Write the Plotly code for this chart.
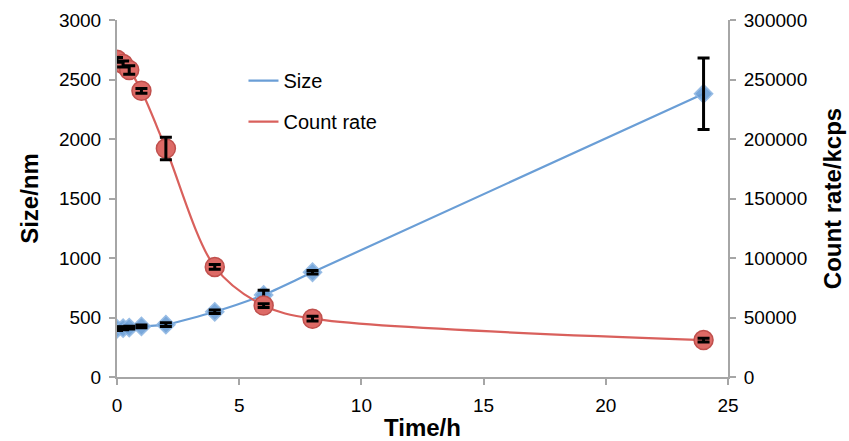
import plotly.graph_objects as go

time_h = [0, 0.25, 0.5, 1, 2, 4, 6, 8, 24]
size_nm = [405, 410, 415, 425, 440, 548, 690, 880, 2380]
size_err = [15, 12, 12, 12, 15, 15, 40, 15, 300]
count_rate = [266500, 263000, 258000, 240500, 192000, 92500, 60000, 49000, 31000]
count_err = [2000, 2500, 3500, 2000, 9500, 2000, 1500, 2000, 1500]

BLUE = "#6A9ED6"
RED = "#D9605C"
FONT = "Liberation Sans, Arial, Helvetica, sans-serif"

fig = go.Figure()

fig.add_trace(go.Scatter(x=time_h, y=size_nm, mode="lines", name="Size",
                         line=dict(color=BLUE, width=2.2, shape="spline", smoothing=0.6),
                         legendgroup="a"))
fig.add_trace(go.Scatter(x=time_h, y=size_nm, mode="markers", showlegend=False,
                         marker=dict(symbol="diamond", size=14, color=BLUE, opacity=0.9,
                                     line=dict(color="#8DB6E3", width=1.5))))
fig.add_trace(go.Scatter(x=time_h, y=count_rate, mode="lines", name="Count rate", yaxis="y2",
                         line=dict(color=RED, width=2.2, shape="spline", smoothing=0.9),
                         legendgroup="b"))
fig.add_trace(go.Scatter(x=time_h, y=count_rate, mode="markers", showlegend=False, yaxis="y2",
                         marker=dict(symbol="circle", size=19, color="#DD6A66",
                                     line=dict(color="#C0504D", width=1.5))))
# error bars on top
fig.add_trace(go.Scatter(x=time_h, y=size_nm, mode="markers", showlegend=False,
                         marker=dict(size=1, opacity=0),
                         error_y=dict(type="data", array=size_err, visible=True,
                                      color="black", thickness=3, width=6)))
fig.add_trace(go.Scatter(x=time_h, y=count_rate, mode="markers", showlegend=False, yaxis="y2",
                         marker=dict(size=1, opacity=0),
                         error_y=dict(type="data", array=count_err, visible=True,
                                      color="black", thickness=3, width=6)))

axis_common = dict(showgrid=False, zeroline=False, showline=True, linecolor="#A6A6A6",
                   linewidth=2, ticks="outside", tickcolor="#A6A6A6", ticklen=6, tickwidth=2,
                   automargin=False, ticklabelstandoff=4,
                   tickfont=dict(family=FONT, size=19, color="black"))

fig.update_layout(
    width=849, height=441,
    margin=dict(l=117, r=121, t=20, b=64),
    plot_bgcolor="white", paper_bgcolor="white",
    font=dict(family=FONT, color="black"),
    xaxis=dict(range=[0, 25], dtick=5, tick0=0,
               title=dict(text="<b>Time/h</b>", font=dict(size=24, family=FONT), standoff=8),
               **axis_common),
    yaxis=dict(range=[0, 3000], dtick=500, tick0=0,
               title=dict(text="<b>Size/nm</b>", font=dict(size=24, family=FONT), standoff=14),
               **axis_common),
    yaxis2=dict(range=[0, 300000], dtick=50000, tick0=0, overlaying="y", side="right",
                tickformat="d",
                title=dict(text="<b>Count rate/kcps</b>", font=dict(size=24, family=FONT), standoff=18),
                **axis_common),
    legend=dict(x=0.207, y=0.885, xanchor="left", yanchor="top", bgcolor="rgba(0,0,0,0)",
                font=dict(size=20, family=FONT), traceorder="grouped", tracegroupgap=12),
    showlegend=True,
)

fig.write_html("out.html")
